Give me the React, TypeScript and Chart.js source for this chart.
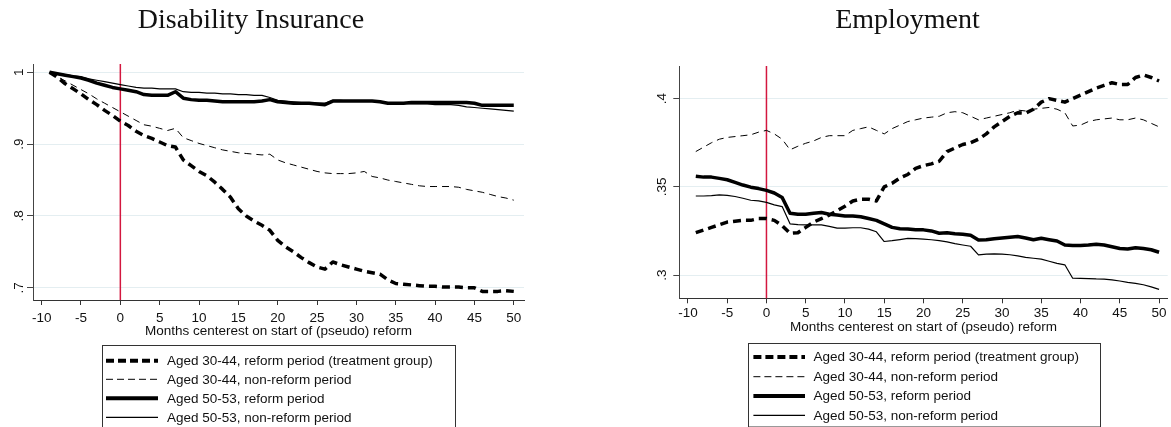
import React, { useEffect, useRef } from 'react';
import { Chart, registerables } from 'chart.js';

Chart.register(...registerables);

// ---------- data ----------
const months = [
  -9, -8, -7, -6, -5, -4, -3, -2, -1, 0,
  1, 2, 3, 4, 5, 6, 7, 8, 9, 10,
  11, 12, 13, 14, 15, 16, 17, 18, 19, 20,
  21, 22, 23, 24, 25, 26, 27, 28, 29, 30,
  31, 32, 33, 34, 35, 36, 37, 38, 39, 40,
  41, 42, 43, 44, 45, 46, 47, 48, 49, 50,
];

const xTicks = [-10, -5, 0, 5, 10, 15, 20, 25, 30, 35, 40, 45, 50];

const seriesNames = [
  'Aged 30-44, reform period (treatment group)',
  'Aged 30-44, non-reform period',
  'Aged 50-53, reform period',
  'Aged 50-53, non-reform period',
];

const panelTitles = ['Disability Insurance', 'Employment'];
const xAxisTitle = 'Months centerest on start of (pseudo) reform';

// Disability Insurance
const diTreat3044 = [
  1.000, 0.993, 0.984, 0.977, 0.970, 0.962, 0.955, 0.947, 0.940, 0.932,
  0.926, 0.918, 0.912, 0.908, 0.903, 0.898, 0.896, 0.878, 0.870, 0.862,
  0.856, 0.847, 0.837, 0.826, 0.810, 0.800, 0.793, 0.787, 0.780, 0.766,
  0.757, 0.750, 0.742, 0.735, 0.729, 0.726, 0.736, 0.732, 0.729, 0.726,
  0.723, 0.721, 0.719, 0.711, 0.706, 0.705, 0.704, 0.703, 0.702, 0.702,
  0.701, 0.701, 0.701, 0.700, 0.700, 0.695, 0.695, 0.695, 0.696, 0.695,
];
const diNonReform3044 = [
  1.000, 0.994, 0.988, 0.982, 0.976, 0.970, 0.963, 0.957, 0.951, 0.945,
  0.939, 0.933, 0.927, 0.925, 0.922, 0.919, 0.922, 0.909, 0.905, 0.901,
  0.898, 0.895, 0.892, 0.890, 0.888, 0.887, 0.886, 0.885, 0.886, 0.878,
  0.874, 0.871, 0.868, 0.865, 0.862, 0.860, 0.859, 0.859, 0.859, 0.860,
  0.862, 0.855, 0.853, 0.850, 0.848, 0.846, 0.844, 0.842, 0.841, 0.841,
  0.841, 0.841, 0.840, 0.837, 0.835, 0.833, 0.830, 0.827, 0.825, 0.822,
];
const diReform5053 = [
  1.000, 0.998, 0.996, 0.994, 0.992, 0.989, 0.985, 0.982, 0.979, 0.977,
  0.975, 0.973, 0.969, 0.968, 0.968, 0.968, 0.973, 0.964, 0.962, 0.961,
  0.961, 0.960, 0.959, 0.959, 0.959, 0.959, 0.959, 0.960, 0.962, 0.959,
  0.958, 0.957, 0.957, 0.957, 0.956, 0.955, 0.960, 0.960, 0.960, 0.960,
  0.960, 0.960, 0.959, 0.957, 0.957, 0.957, 0.958, 0.958, 0.958, 0.958,
  0.958, 0.958, 0.958, 0.958, 0.957, 0.954, 0.954, 0.954, 0.954, 0.954,
];
const diNonReform5053 = [
  1.000, 0.998, 0.997, 0.995, 0.994, 0.991, 0.989, 0.987, 0.985, 0.983,
  0.981, 0.979, 0.978, 0.978, 0.977, 0.977, 0.977, 0.973, 0.972, 0.972,
  0.971, 0.971, 0.970, 0.970, 0.969, 0.969, 0.968, 0.968, 0.965, 0.961,
  0.960, 0.959, 0.958, 0.958, 0.957, 0.957, 0.961, 0.961, 0.960, 0.960,
  0.960, 0.960, 0.960, 0.957, 0.957, 0.957, 0.956, 0.956, 0.956, 0.955,
  0.955, 0.955, 0.954, 0.952, 0.951, 0.950, 0.949, 0.948, 0.947, 0.946,
];
const diYTicks = [0.7, 0.8, 0.9, 1.0];
const diYLabels = ['.7', '.8', '.9', '1'];

// Employment
const empTreat3044 = [
  0.3240, 0.3255, 0.3270, 0.3285, 0.3300, 0.3305, 0.3310, 0.3310, 0.3320, 0.3320,
  0.3310, 0.3280, 0.3237, 0.3240, 0.3270, 0.3300, 0.3320, 0.3340, 0.3365, 0.3390,
  0.3420, 0.3430, 0.3430, 0.3420, 0.3500, 0.3520, 0.3550, 0.3570, 0.3605, 0.3620,
  0.3630, 0.3645, 0.3700, 0.3720, 0.3740, 0.3750, 0.3770, 0.3800, 0.3840, 0.3870,
  0.3900, 0.3920, 0.3918, 0.3940, 0.3980, 0.4000, 0.3990, 0.3980, 0.4000, 0.4020,
  0.4040, 0.4060, 0.4075, 0.4090, 0.4080, 0.4080, 0.4120, 0.4134, 0.4120, 0.4100,
];
const empNonReform3044 = [
  0.3700, 0.3725, 0.3750, 0.3770, 0.3780, 0.3785, 0.3790, 0.3795, 0.3810, 0.3820,
  0.3800, 0.3770, 0.3710, 0.3730, 0.3747, 0.3760, 0.3780, 0.3790, 0.3790, 0.3790,
  0.3820, 0.3830, 0.3840, 0.3820, 0.3800, 0.3830, 0.3850, 0.3870, 0.3880, 0.3890,
  0.3895, 0.3900, 0.3920, 0.3926, 0.3920, 0.3900, 0.3880, 0.3890, 0.3900, 0.3910,
  0.3920, 0.3935, 0.3930, 0.3940, 0.3945, 0.3950, 0.3940, 0.3920, 0.3845, 0.3850,
  0.3870, 0.3880, 0.3885, 0.3890, 0.3880, 0.3880, 0.3890, 0.3880, 0.3860, 0.3840,
];
const empReform5053 = [
  0.3560, 0.3555, 0.3555, 0.3548, 0.3540, 0.3525, 0.3510, 0.3498, 0.3490, 0.3480,
  0.3465, 0.3440, 0.3350, 0.3344, 0.3344, 0.3350, 0.3354, 0.3345, 0.3340, 0.3335,
  0.3335, 0.3330, 0.3320, 0.3310, 0.3290, 0.3270, 0.3262, 0.3261, 0.3256, 0.3256,
  0.3250, 0.3237, 0.3240, 0.3234, 0.3231, 0.3225, 0.3198, 0.3200, 0.3206, 0.3210,
  0.3214, 0.3218, 0.3210, 0.3200, 0.3208, 0.3200, 0.3193, 0.3170, 0.3168, 0.3167,
  0.3170, 0.3174, 0.3170, 0.3160, 0.3150, 0.3147, 0.3155, 0.3150, 0.3143, 0.3129,
];
const empNonReform5053 = [
  0.3448, 0.3448, 0.3450, 0.3454, 0.3452, 0.3445, 0.3435, 0.3424, 0.3420, 0.3412,
  0.3398, 0.3388, 0.3290, 0.3286, 0.3284, 0.3284, 0.3284, 0.3276, 0.3266, 0.3266,
  0.3268, 0.3268, 0.3260, 0.3245, 0.3190, 0.3195, 0.3201, 0.3208, 0.3206, 0.3203,
  0.3200, 0.3195, 0.3188, 0.3178, 0.3170, 0.3163, 0.3114, 0.3118, 0.3120, 0.3118,
  0.3115, 0.3108, 0.3100, 0.3095, 0.3090, 0.3078, 0.3066, 0.3058, 0.2982, 0.2981,
  0.2980, 0.2978, 0.2977, 0.2972, 0.2966, 0.2958, 0.2953, 0.2945, 0.2933, 0.2919,
];
const empYTicks = [0.3, 0.35, 0.4];
const empYLabels = ['.3', '.35', '.4'];

// ---------- styles ----------
const lineStyles = [
  { width: 3.5, dash: [8, 5] },
  { width: 1, dash: [7, 5] },
  { width: 3.5, dash: [] as number[] },
  { width: 1.2, dash: [] as number[] },
];
const legendStyles = [
  { width: 4, dash: [8, 4] },
  { width: 1, dash: [7, 4] },
  { width: 4, dash: [] as number[] },
  { width: 1.2, dash: [] as number[] },
];

const SANS = "'Liberation Sans', Arial, sans-serif";
const SERIF = "'Liberation Serif', 'Times New Roman', serif";
const SANS_SIZE = 13.5;

type PanelCfg = {
  left: number;
  width: number;
  title: string;
  titleX: number;
  titleY: number;
  series: number[][];
  yTicks: number[];
  yLabels: string[];
  xMin: number;
  xMax: number;
  yMin: number;
  yMax: number;
  padLeft: number;
  padRight: number;
  padTop: number;
  padBottom: number;
  yAxisWidth: number;
  xAxisHeight: number;
  xLabelPad: number;
  legendBox: { x: number; y: number; w: number; h: number };
  legendRows: number[];
  legendLine: [number, number];
  legendTextX: number;
};

const panels: PanelCfg[] = [
  {
    left: 0,
    width: 585,
    title: panelTitles[0],
    titleX: 251,
    titleY: 28,
    series: [diTreat3044, diNonReform3044, diReform5053, diNonReform5053],
    yTicks: diYTicks,
    yLabels: diYLabels,
    xMin: -11.1,
    xMax: 51.3,
    yMin: 0.683,
    yMax: 1.0116,
    padLeft: 0,
    padRight: 61,
    padTop: 64,
    padBottom: 88,
    yAxisWidth: 33,
    xAxisHeight: 39,
    xLabelPad: 5,
    legendBox: { x: 102, y: 345, w: 353, h: 95 },
    legendRows: [360.7, 379.3, 398.3, 417.3],
    legendLine: [106, 158],
    legendTextX: 167,
  },
  {
    left: 585,
    width: 586,
    title: panelTitles[1],
    titleX: 322.5,
    titleY: 28,
    series: [empTreat3044, empNonReform3044, empReform5053, empNonReform5053],
    yTicks: empYTicks,
    yLabels: empYLabels,
    xMin: -11.1,
    xMax: 51.1,
    yMin: 0.2868,
    yMax: 0.4185,
    padLeft: 60.3,
    padRight: 3.3,
    padTop: 66,
    padBottom: 91.5,
    yAxisWidth: 34,
    xAxisHeight: 37.2,
    xLabelPad: 2,
    legendBox: { x: 163, y: 343, w: 352, h: 83.5 },
    legendRows: [357, 376.7, 396, 415.3],
    legendLine: [168.4, 220],
    legendTextX: 228.4,
  },
];

const decorPlugin = {
  id: 'panelDecor',
  beforeDatasetsDraw(chart: any) {
    const { ctx, chartArea, scales } = chart;
    const x0 = scales.x.getPixelForValue(0);
    ctx.save();
    ctx.strokeStyle = '#d3173f';
    ctx.lineWidth = 1.5;
    ctx.beginPath();
    ctx.moveTo(x0, chartArea.top);
    ctx.lineTo(x0, chartArea.bottom);
    ctx.stroke();
    ctx.restore();
  },
  afterDraw(chart: any, _args: any, opts: any) {
    const cfg: PanelCfg = opts.cfg;
    const ctx: CanvasRenderingContext2D = chart.ctx;
    ctx.save();
    // title
    ctx.fillStyle = '#111';
    ctx.font = `28px ${SERIF}`;
    ctx.textAlign = 'center';
    ctx.textBaseline = 'alphabetic';
    ctx.fillText(cfg.title, cfg.titleX, cfg.titleY);
    // legend box
    const b = cfg.legendBox;
    ctx.strokeStyle = '#333';
    ctx.lineWidth = 1;
    ctx.strokeRect(Math.round(b.x) + 0.5, Math.round(b.y) + 0.5, b.w, b.h);
    ctx.font = `${SANS_SIZE}px ${SANS}`;
    ctx.textAlign = 'left';
    ctx.textBaseline = 'middle';
    seriesNames.forEach((name, i) => {
      const y = cfg.legendRows[i];
      const st = legendStyles[i];
      ctx.beginPath();
      ctx.setLineDash(st.dash);
      ctx.lineWidth = st.width;
      ctx.strokeStyle = '#000';
      ctx.moveTo(cfg.legendLine[0], y);
      ctx.lineTo(cfg.legendLine[1], y);
      ctx.stroke();
      ctx.setLineDash([]);
      ctx.fillStyle = '#111';
      ctx.fillText(name, cfg.legendTextX, y + 0.5);
    });
    ctx.restore();
  },
};

function Panel({ cfg }: { cfg: PanelCfg }) {
  const ref = useRef<HTMLCanvasElement | null>(null);
  useEffect(() => {
    if (!ref.current) return;
    const datasets = cfg.series.map((vals, i) => ({
      label: seriesNames[i],
      data: months.map((m, k) => ({ x: m, y: vals[k] })),
      borderColor: '#000',
      backgroundColor: '#000',
      borderWidth: lineStyles[i].width,
      borderDash: lineStyles[i].dash,
      borderJoinStyle: 'round' as const,
      pointRadius: 0,
      tension: 0,
      fill: false,
    }));
    const chart = new Chart(ref.current, {
      type: 'line',
      data: { datasets },
      plugins: [decorPlugin],
      options: {
        animation: false,
        responsive: false,
        maintainAspectRatio: false,
        devicePixelRatio: 1,
        layout: {
          padding: { left: cfg.padLeft, right: cfg.padRight, top: cfg.padTop, bottom: cfg.padBottom },
        },
        plugins: {
          legend: { display: false },
          tooltip: { enabled: false },
          title: { display: false },
          panelDecor: { cfg },
        } as any,
        scales: {
          x: {
            type: 'linear',
            min: cfg.xMin,
            max: cfg.xMax,
            afterBuildTicks: (s: any) => {
              s.ticks = xTicks.map((v) => ({ value: v }));
            },
            afterFit: (s: any) => {
              s.height = cfg.xAxisHeight;
            },
            ticks: {
              autoSkip: false,
              maxRotation: 0,
              minRotation: 0,
              padding: cfg.xLabelPad,
              color: '#111',
              font: { family: SANS, size: SANS_SIZE },
              callback: (v: any) => String(v),
            },
            grid: {
              drawOnChartArea: false,
              drawTicks: true,
              tickLength: 5,
              tickColor: '#333',
            },
            border: { display: true, color: '#333', width: 1 },
            title: {
              display: true,
              text: xAxisTitle,
              color: '#111',
              font: { family: SANS, size: SANS_SIZE },
              padding: { top: 0, bottom: 0 },
            },
          },
          y: {
            type: 'linear',
            min: cfg.yMin,
            max: cfg.yMax,
            afterBuildTicks: (s: any) => {
              s.ticks = cfg.yTicks.map((v) => ({ value: v }));
            },
            afterFit: (s: any) => {
              s.width = cfg.yAxisWidth;
            },
            ticks: {
              autoSkip: false,
              minRotation: 90,
              maxRotation: 90,
              crossAlign: 'center',
              padding: 2,
              color: '#111',
              font: { family: SANS, size: SANS_SIZE },
              callback: (_v: any, idx: number) => cfg.yLabels[idx],
            },
            grid: {
              drawOnChartArea: true,
              color: '#e4eef1',
              lineWidth: 1,
              drawTicks: true,
              tickLength: 6,
              tickColor: '#444',
            },
            border: { display: true, color: '#444', width: 1 },
          },
        },
      } as any,
    });
    return () => chart.destroy();
  }, [cfg]);
  return (
    <canvas
      ref={ref}
      width={cfg.width}
      height={427}
      style={{ position: 'absolute', left: cfg.left, top: 0, width: cfg.width, height: 427, display: 'block' }}
    />
  );
}

export default function App() {
  return (
    <div style={{ position: 'fixed', left: 0, top: 0, width: 1171, height: 427, background: '#fff', overflow: 'hidden' }}>
      {panels.map((p, i) => (
        <Panel key={i} cfg={p} />
      ))}
    </div>
  );
}
